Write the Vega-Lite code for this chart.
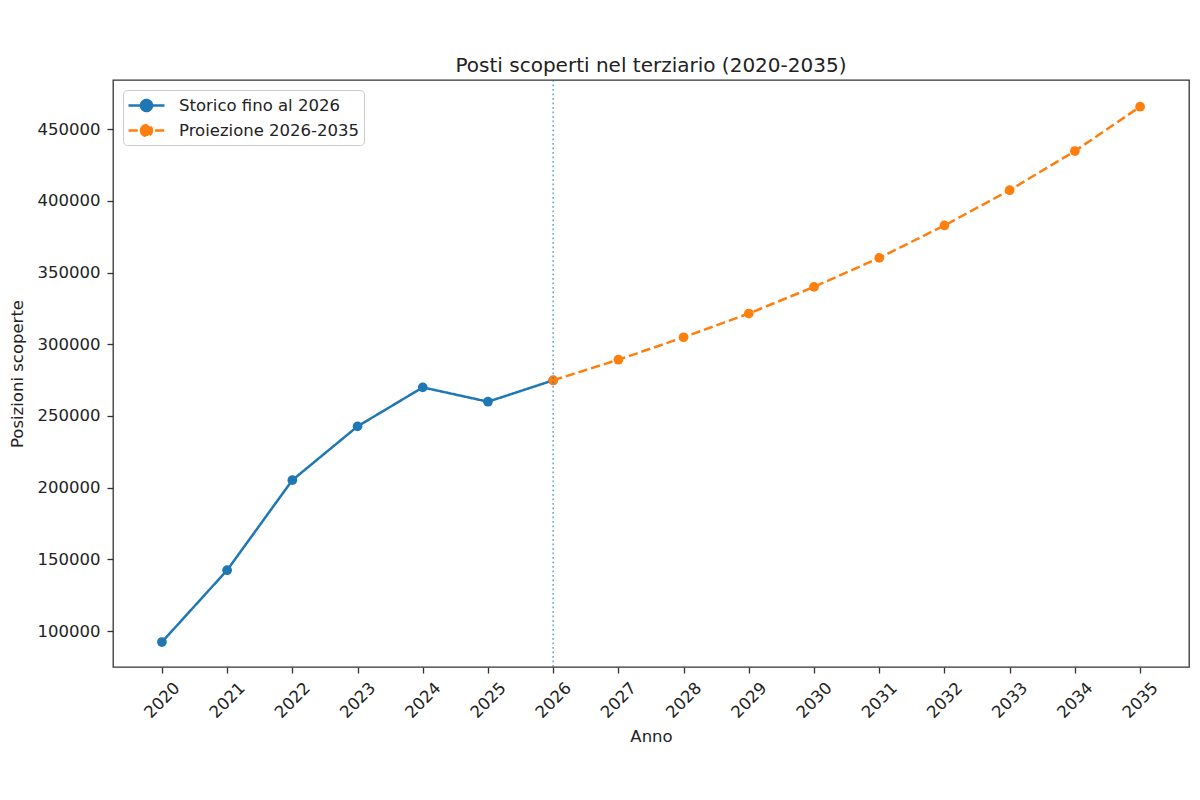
{
  "$schema": "https://vega.github.io/schema/vega-lite/v6.json",
  "width": 1076,
  "height": 587,
  "autosize": {"type": "none"},
  "padding": {"left": 113, "top": 80, "right": 11, "bottom": 133},
  "background": "white",
  "config": {
    "font": "DejaVu Sans",
    "view": {"stroke": "#333333", "strokeWidth": 1.3},
    "axis": {"grid": false, "domain": false, "tickColor": "#333333", "tickWidth": 1.3, "tickSize": 6, "labelColor": "#222222", "titleColor": "#222222", "labelFontSize": 16.5, "titleFontSize": 16.5, "titleFontWeight": "normal", "labelFont": "DejaVu Sans", "titleFont": "DejaVu Sans"}
  },
  "title": {"text": "Posti scoperti nel terziario (2020-2035)", "fontSize": 20, "fontWeight": "normal", "color": "#222222", "font": "DejaVu Sans", "offset": -13, "baseline": "alphabetic", "anchor": "middle"},
  "datasets": {
    "series": [
      {"anno": 2020, "valore": 92300, "serie": "Storico fino al 2026"},
      {"anno": 2021, "valore": 142400, "serie": "Storico fino al 2026"},
      {"anno": 2022, "valore": 205200, "serie": "Storico fino al 2026"},
      {"anno": 2023, "valore": 242700, "serie": "Storico fino al 2026"},
      {"anno": 2024, "valore": 269900, "serie": "Storico fino al 2026"},
      {"anno": 2025, "valore": 259900, "serie": "Storico fino al 2026"},
      {"anno": 2026, "valore": 274800, "serie": "Storico fino al 2026"},
      {"anno": 2026, "valore": 274800, "serie": "Proiezione 2026-2035"},
      {"anno": 2027, "valore": 289200, "serie": "Proiezione 2026-2035"},
      {"anno": 2028, "valore": 304800, "serie": "Proiezione 2026-2035"},
      {"anno": 2029, "valore": 321400, "serie": "Proiezione 2026-2035"},
      {"anno": 2030, "valore": 340000, "serie": "Proiezione 2026-2035"},
      {"anno": 2031, "valore": 360200, "serie": "Proiezione 2026-2035"},
      {"anno": 2032, "valore": 382800, "serie": "Proiezione 2026-2035"},
      {"anno": 2033, "valore": 407400, "serie": "Proiezione 2026-2035"},
      {"anno": 2034, "valore": 434700, "serie": "Proiezione 2026-2035"},
      {"anno": 2035, "valore": 465600, "serie": "Proiezione 2026-2035"}
    ],
    "rule": [{"anno": 2026}]
  },
  "layer": [
    {
      "data": {"name": "series"},
      "mark": {"type": "line", "strokeWidth": 2.5},
      "encoding": {
        "x": {"field": "anno", "type": "quantitative", "title": "Anno",
          "scale": {"domain": [2019.25, 2035.75], "nice": false, "zero": false},
          "axis": {"values": [2020, 2021, 2022, 2023, 2024, 2025, 2026, 2027, 2028, 2029, 2030, 2031, 2032, 2033, 2034, 2035], "format": "d", "labelAngle": -45, "labelAlign": "center", "labelBaseline": "middle", "labelPadding": 27, "titlePadding": 8, "labelFlush": false, "labelOverlap": false}},
        "y": {"field": "valore", "type": "quantitative", "title": "Posizioni scoperte",
          "scale": {"domain": [74900, 484240], "nice": false, "zero": false},
          "axis": {"values": [100000, 150000, 200000, 250000, 300000, 350000, 400000, 450000], "format": "d", "labelPadding": 7, "titlePadding": 12, "labelFlush": false}},
        "color": {"field": "serie", "type": "nominal", "title": null,
          "scale": {"domain": ["Storico fino al 2026", "Proiezione 2026-2035"], "range": ["#1f77b4", "#ff7f0e"]},
          "legend": {"orient": "top-left", "offset": 10, "padding": 4, "fillColor": "white", "strokeColor": "#cccccc", "cornerRadius": 4,
            "symbolType": "M-1,0L2.6,0M0.25,0A0.55,0.55 0 1,1 1.35,0A0.55,0.55 0 1,1 0.25,0Z",
            "symbolSize": 400, "symbolStrokeWidth": 2.5, "labelOffset": 29, "rowPadding": 3,
            "labelFontSize": 16.5, "labelFont": "DejaVu Sans", "labelColor": "#222222", "labelLimit": 400,
            "encoding": {"symbols": {"update": {"fill": {"scale": "color", "field": "value"}}}}}},
        "strokeDash": {"field": "serie", "type": "nominal", "title": null,
          "scale": {"domain": ["Storico fino al 2026", "Proiezione 2026-2035"], "range": [[1, 0], [9.25, 4]]},
          "legend": {"orient": "top-left"}}
      }
    },
    {
      "data": {"name": "series"},
      "mark": {"type": "point", "filled": true, "size": 95, "opacity": 1},
      "encoding": {
        "x": {"field": "anno", "type": "quantitative"},
        "y": {"field": "valore", "type": "quantitative"},
        "color": {"field": "serie", "type": "nominal", "legend": null}
      }
    },
    {
      "data": {"name": "rule"},
      "mark": {"type": "rule", "color": "#1f77b4", "strokeWidth": 1.7, "strokeDash": [1.7, 2.8], "opacity": 0.6},
      "encoding": {
        "x": {"field": "anno", "type": "quantitative"}
      }
    }
  ]
}
